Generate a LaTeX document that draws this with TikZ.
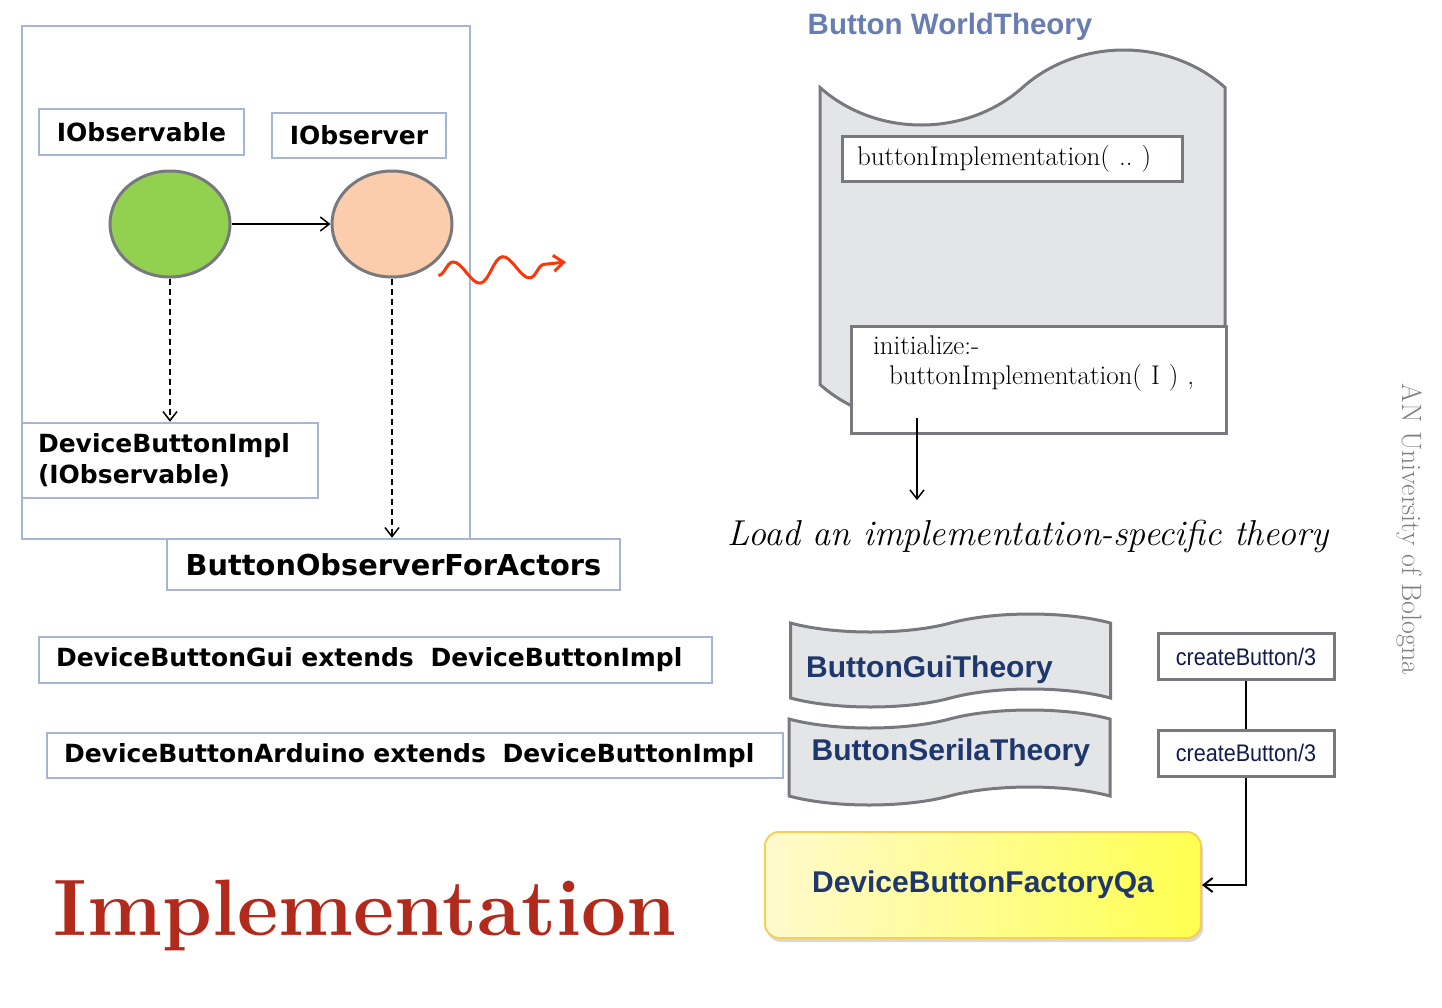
\documentclass[tikz,border=0pt]{standalone}
\usepackage{fontspec}
\usepackage{tikz}
\usetikzlibrary{arrows.meta,positioning,shapes.geometric,shapes.symbols,decorations.pathmorphing,shadows}
\newfontfamily\verdfont{DejaVu Sans}
\newfontfamily\arialfont{Liberation Sans}
\newfontfamily\narrowfont[FakeStretch=0.9]{Liberation Sans}
\definecolor{BWframe}{RGB}{168,180,212}
\definecolor{BWgray}{RGB}{120,121,126}
\definecolor{BWfill}{RGB}{228,229,231}
\definecolor{BWgreen}{RGB}{146,208,80}
\definecolor{BWpeach}{RGB}{252,205,172}
\definecolor{BWred}{RGB}{250,55,10}
\definecolor{BWtitle}{RGB}{104,126,178}
\definecolor{BWnavy}{RGB}{30,55,110}
\definecolor{BWink}{RGB}{20,28,75}
\definecolor{BWyellowA}{RGB}{255,250,205}
\definecolor{BWyellowB}{RGB}{255,255,80}
\definecolor{BWgold}{RGB}{244,208,90}
\definecolor{BWimpl}{RGB}{178,42,28}
\tikzset{
  lbl/.style={draw=BWframe,line width=2.5pt,fill=white,inner sep=0pt,
              font=\verdfont\bfseries\fontsize{25}{31}\selectfont},
  ball/.style={ellipse,draw=BWgray,line width=3pt,minimum width=120pt,minimum height=106pt},
  theory/.style={tape,draw=BWgray,line width=3pt,fill=BWfill,tape bend height=18pt},
  thname/.style={anchor=west,inner sep=0pt,text=BWnavy,font=\arialfont\bfseries\fontsize{30}{34}\selectfont},
  code/.style={draw=BWgray,line width=3pt,fill=white,align=left,
               font=\fontsize{27}{30}\selectfont},
  fn/.style={draw=BWgray,line width=3pt,fill=white,text=BWink,
             font=\narrowfont\fontsize{24}{26}\selectfont,minimum width=176pt,minimum height=46pt},
  fl/.style={-{Straight Barb[length=9pt,width=14pt]},line width=1.5pt},
  fld/.style={fl,dash pattern=on 6pt off 4pt},
  note/.style={font=\fontsize{28}{30}\selectfont,text=gray}
}
\begin{document}
\begin{tikzpicture}[x=1pt,y=-1pt]
  \useasboundingbox (0,0) rectangle (1442,1007);
  % observer part
  \node[draw=BWframe,line width=2.5pt,minimum width=448pt,minimum height=513pt] (frame) at (246,282.5) {};
  \node[lbl,minimum width=205pt,minimum height=46pt] (obsable) at (141.5,132) {IObservable};
  \node[lbl,minimum width=174pt,minimum height=45pt] (obser) at (359,135.5) {IObserver};
  \node[ball,fill=BWgreen] (src) at (170,224) {};
  \node[ball,fill=BWpeach] (dst) at (392,224) {};
  \node[lbl,text width=264pt,inner xsep=16pt,minimum height=75pt,align=left] (impl) at (170,460.5) {DeviceButtonImpl\\(IObservable)};
  \node[lbl,minimum width=453pt,minimum height=51pt,font=\verdfont\bfseries\fontsize{28.8}{32}\selectfont] (actors) at (393.5,564.5) {ButtonObserverForActors};
  \coordinate (wave) at (566,262);
  \draw[fl] (src) -- (dst);
  \draw[fld] (src) -- (impl.north -| src);
  \draw[fld] (dst) -- (actors.north -| dst);
  \draw[BWred,line width=3pt,-{Straight Barb[length=10pt,width=16pt]},decorate,
        decoration={snake,amplitude=12pt,segment length=50pt,post length=14pt}]
        ([shift={(3,13)}]dst.south east) -- (wave);
  % world theory
  \node[font=\arialfont\bfseries\fontsize{29.5}{32}\selectfont,text=BWtitle] (wtitle) at (950,27) {Button WorldTheory};
  \node[theory,tape bend height=75pt,minimum width=405pt,minimum height=372pt] (world) at (1022.5,236) {};
  \node[code,text width=310pt,inner xsep=15pt,minimum height=45pt] (bimpl) at (1012,158.5) {buttonImplementation( ..\ )};
  \node[code,text width=331pt,inner xsep=22pt,minimum height=107pt] (init) at (1038.5,379.5) {initialize:-\\\hspace*{16pt}buttonImplementation( I ) ,\\\strut};
  \coordinate (ldtop) at (917,418);
  \node[font=\itshape\fontsize{36}{40}\selectfont] (load) at (1028,536) {Load an implementation-specific theory};
  \draw[fl,shorten >=16pt] (ldtop) -- (ldtop |- load.north);
  \node[note,rotate=-90] (uni) at (1410,529) {AN University of Bologna};
  % implementations
  \node[lbl,text width=639pt,inner xsep=17pt,minimum height=46pt,align=left] (gui) at (375.5,660) {DeviceButtonGui extends\ \ DeviceButtonImpl};
  \node[lbl,text width=702pt,inner xsep=17pt,minimum height=45pt,align=left] (ard) at (415,755.5) {DeviceButtonArduino extends\ \ DeviceButtonImpl};
  \node[theory,minimum width=320pt,minimum height=93pt] (guith) at (950.5,660.5) {};
  \node[thname] (guiname) at ([xshift=17pt,yshift=-9pt]guith.west) {ButtonGuiTheory};
  \node[theory,minimum width=321pt,minimum height=95pt] (serth) at (949.5,757.5) {};
  \node[thname] (sername) at ([xshift=24pt,yshift=5pt]serth.west) {ButtonSerilaTheory};
  \node[fn] (cb1) at (1246,656.5) {createButton/3};
  \node[fn] (cb2) at (1246,753) {createButton/3};
  \node[rounded corners=14pt,draw=BWgold,line width=2pt,left color=BWyellowA,right color=BWyellowB,
        drop shadow={opacity=0.3,shadow xshift=2pt,shadow yshift=-4pt},minimum width=436pt,minimum height=106pt,
        text=BWnavy,font=\arialfont\bfseries\fontsize{30}{34}\selectfont] (fact) at (983,885) {DeviceButtonFactoryQa};
  \draw[line width=2pt] (cb1) -- (cb2);
  \draw[fl,line width=2pt] (cb2) |- (fact);
  % title
  \node[text=BWimpl,font=\bfseries\fontsize{80}{84}\selectfont] (impltitle) at (365,915) {Implementation};
\end{tikzpicture}
\end{document}
